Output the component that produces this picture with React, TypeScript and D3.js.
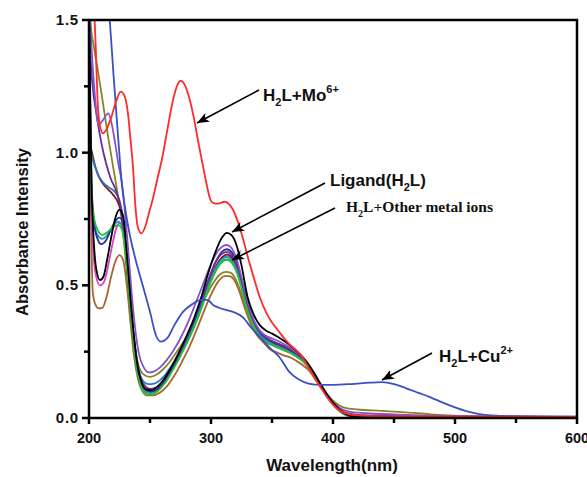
import React from "react";
import * as d3 from "d3";

type P = [number, number];

const xTicks = [200, 300, 400, 500, 600];
const xMinorTicks = [250, 350, 450, 550];
const yTicks = [0, 0.5, 1.0, 1.5];
const yMinorTicks = [0.25, 0.75, 1.25];

const moSeries: P[] = [[203.5,1.62],[205.5,1.4],[207,1.2],[209,1.1],[211.5,1.073],[214,1.085],[218,1.13],[222,1.19],[226,1.23],[229,1.215],[232,1.145],[234,1.05],[236,0.95],[238,0.8],[240,0.72],[243,0.696],[246,0.72],[249,0.77],[252,0.82],[256,0.9],[260,0.98],[264,1.08],[268,1.18],[272,1.25],[275,1.271],[278,1.26],[282,1.21],[286,1.13],[290,1.03],[293,0.96],[296,0.89],[299,0.83],[302,0.81],[306,0.808],[311,0.815],[315,0.805],[318,0.785],[322,0.74],[326,0.68],[330,0.61],[335,0.53],[340,0.455],[345,0.4],[350,0.36],[355,0.33],[360,0.3],[365,0.275],[370,0.255],[375,0.23],[380,0.19],[385,0.15],[390,0.115],[395,0.08],[400,0.05],[405,0.03],[410,0.018],[420,0.01],[450,0.006],[600,0.004]];

const cuSeries: P[] = [[214,1.65],[217,1.5],[220,1.3],[224,1.05],[227,0.88],[230,0.78],[233,0.7],[238,0.6],[244,0.5],[250,0.4],[255,0.31],[259,0.288],[264,0.3],[270,0.35],[277,0.4],[285,0.43],[292,0.445],[297,0.445],[302,0.425],[310,0.41],[318,0.4],[326,0.38],[333,0.34],[340,0.305],[348,0.265],[356,0.23],[364,0.175],[372,0.145],[380,0.13],[390,0.125],[400,0.125],[415,0.128],[430,0.133],[440,0.135],[450,0.128],[460,0.112],[470,0.095],[480,0.078],[490,0.058],[500,0.04],[510,0.025],[520,0.015],[530,0.01],[545,0.007],[600,0.005]];

const ligandSeries: P[] = [[200,1.6],[201,1.2],[202,0.9],[204,0.66],[206,0.56],[209,0.52],[212,0.535],[215,0.6],[219,0.7],[222,0.76],[225,0.785],[228,0.76],[231,0.62],[234,0.45],[237,0.3],[240,0.19],[243,0.135],[247,0.108],[251,0.105],[256,0.118],[262,0.15],[268,0.195],[274,0.25],[280,0.31],[286,0.375],[292,0.455],[298,0.55],[304,0.63],[309,0.68],[313,0.698],[317,0.688],[321,0.65],[325,0.575],[330,0.455],[335,0.39],[340,0.35],[345,0.33],[350,0.318],[355,0.305],[360,0.29],[365,0.273],[370,0.253],[375,0.23],[380,0.202],[385,0.166],[390,0.126],[395,0.089],[400,0.058],[405,0.033],[410,0.016],[415,0.007],[425,0.003],[600,0.003]];

const greenSeries: P[] = [[200,1.6],[201,1.15],[202,0.86],[204,0.76],[207,0.71],[211,0.69],[215,0.7],[220,0.72],[224,0.727],[227,0.71],[230,0.62],[233,0.47],[236,0.31],[239,0.19],[242,0.125],[246,0.092],[250,0.088],[256,0.1],[262,0.13],[268,0.175],[274,0.225],[280,0.28],[286,0.34],[292,0.41],[298,0.49],[304,0.555],[309,0.588],[313,0.596],[317,0.585],[321,0.55],[325,0.49],[330,0.405],[335,0.345],[340,0.305],[345,0.285],[350,0.275],[355,0.265],[360,0.255],[365,0.245],[370,0.232],[375,0.215],[380,0.19],[385,0.155],[390,0.12],[395,0.085],[400,0.055],[405,0.03],[410,0.014],[415,0.006],[425,0.003],[600,0.003]];

const tealSeries: P[] = [[200,1.6],[201,1.1],[202,0.84],[204,0.74],[207,0.69],[211,0.675],[215,0.69],[220,0.725],[224,0.74],[227,0.725],[230,0.63],[233,0.475],[236,0.315],[239,0.2],[242,0.135],[246,0.1],[250,0.095],[256,0.105],[262,0.135],[268,0.18],[274,0.23],[280,0.285],[286,0.345],[292,0.415],[298,0.495],[304,0.565],[309,0.598],[313,0.606],[317,0.595],[321,0.56],[325,0.5],[330,0.412],[335,0.35],[340,0.31],[345,0.29],[350,0.278],[355,0.268],[360,0.258],[365,0.247],[370,0.234],[375,0.217],[380,0.192],[385,0.157],[390,0.12],[395,0.085],[400,0.055],[405,0.03],[410,0.014],[415,0.006],[425,0.003],[600,0.003]];

const indigoSeries: P[] = [[200,1.6],[201,1.2],[202,0.9],[204,0.74],[207,0.675],[210,0.655],[214,0.67],[218,0.71],[222,0.745],[225,0.755],[228,0.73],[231,0.6],[234,0.44],[237,0.29],[240,0.19],[243,0.135],[247,0.105],[251,0.1],[256,0.108],[262,0.138],[268,0.185],[274,0.24],[280,0.3],[286,0.365],[292,0.44],[298,0.52],[304,0.59],[309,0.627],[313,0.636],[317,0.625],[321,0.585],[325,0.52],[330,0.43],[335,0.365],[340,0.325],[345,0.303],[350,0.29],[355,0.28],[360,0.27],[365,0.257],[370,0.242],[375,0.224],[380,0.197],[385,0.162],[390,0.123],[395,0.087],[400,0.056],[405,0.031],[410,0.015],[415,0.007],[425,0.003],[600,0.003]];

const pinkSeries: P[] = [[200,1.6],[201,1.1],[202,0.8],[204,0.6],[206,0.53],[209,0.5],[212,0.51],[215,0.56],[219,0.65],[222,0.71],[225,0.735],[228,0.715],[231,0.59],[234,0.43],[237,0.285],[240,0.185],[243,0.13],[247,0.1],[251,0.095],[256,0.105],[262,0.135],[268,0.18],[274,0.232],[280,0.288],[286,0.35],[292,0.422],[298,0.5],[304,0.57],[309,0.603],[313,0.61],[317,0.598],[321,0.562],[325,0.5],[330,0.414],[335,0.352],[340,0.313],[345,0.292],[350,0.28],[355,0.27],[360,0.26],[365,0.248],[370,0.235],[375,0.218],[380,0.193],[385,0.158],[390,0.121],[395,0.086],[400,0.056],[405,0.031],[410,0.015],[415,0.007],[425,0.004],[600,0.004]];

const brownSeries: P[] = [[200,1.55],[201,1.1],[202,0.7],[203,0.48],[205,0.43],[208,0.413],[211,0.415],[214,0.45],[218,0.53],[222,0.595],[225,0.614],[228,0.595],[231,0.5],[234,0.36],[237,0.23],[240,0.15],[244,0.1],[248,0.085],[252,0.085],[258,0.095],[264,0.12],[270,0.16],[276,0.21],[282,0.265],[288,0.33],[294,0.4],[300,0.465],[306,0.515],[311,0.535],[315,0.535],[319,0.52],[323,0.48],[328,0.41],[333,0.35],[338,0.31],[343,0.285],[348,0.26],[355,0.245],[360,0.235],[365,0.228],[370,0.215],[375,0.2],[380,0.18],[385,0.15],[390,0.115],[395,0.08],[400,0.05],[405,0.027],[410,0.012],[415,0.006],[425,0.003],[600,0.003]];

const oliveSeries: P[] = [[200,1.62],[201,1.5],[204,1.4],[207.6,1.3],[212,1.17],[216,1.05],[220,0.94],[224,0.83],[227,0.74],[230,0.6],[233,0.45],[236,0.32],[239,0.23],[242,0.18],[246,0.16],[250,0.155],[254,0.16],[260,0.18],[266,0.21],[272,0.25],[278,0.29],[284,0.34],[290,0.4],[296,0.46],[302,0.51],[307,0.54],[312,0.551],[316,0.548],[320,0.525],[324,0.48],[329,0.41],[334,0.35],[339,0.31],[344,0.29],[350,0.275],[355,0.265],[360,0.255],[365,0.245],[370,0.232],[375,0.215],[380,0.19],[385,0.16],[390,0.12],[395,0.09],[400,0.065],[405,0.048],[410,0.038],[420,0.032],[440,0.027],[460,0.021],[480,0.014],[500,0.009],[530,0.005],[600,0.004]];

const maroonSeries: P[] = [[200,1.05],[202,1.01],[205,0.95],[208,0.91],[212,0.88],[216,0.86],[220,0.84],[224,0.81],[227,0.76],[230,0.63],[233,0.47],[236,0.31],[239,0.2],[242,0.135],[246,0.1],[250,0.095],[256,0.105],[262,0.135],[268,0.18],[274,0.23],[280,0.285],[286,0.35],[292,0.42],[298,0.5],[304,0.57],[309,0.605],[313,0.617],[317,0.605],[321,0.57],[325,0.51],[330,0.42],[335,0.36],[340,0.32],[345,0.297],[350,0.285],[355,0.275],[360,0.265],[365,0.252],[370,0.238],[375,0.22],[380,0.195],[385,0.16],[390,0.122],[395,0.087],[400,0.056],[405,0.032],[410,0.015],[415,0.007],[425,0.003],[600,0.003]];

const steelSeries: P[] = [[200,1.1],[201,1.02],[204,0.96],[207.6,0.916],[212,0.885],[216,0.87],[221,0.853],[225,0.82],[228,0.75],[231,0.6],[234,0.44],[237,0.3],[240,0.2],[243,0.15],[247,0.13],[251,0.128],[256,0.135],[262,0.16],[268,0.2],[274,0.245],[280,0.295],[286,0.355],[292,0.425],[298,0.5],[304,0.56],[309,0.59],[313,0.598],[317,0.588],[321,0.555],[325,0.5],[330,0.415],[335,0.355],[340,0.315],[345,0.293],[350,0.28],[355,0.27],[360,0.26],[365,0.248],[370,0.235],[375,0.218],[380,0.193],[385,0.158],[390,0.12],[395,0.085],[400,0.055],[405,0.03],[410,0.014],[415,0.006],[425,0.003],[600,0.003]];

const violetSeries: P[] = [[200,1.6],[202,1.4],[205,1.205],[207.6,1.104],[211,1.12],[215.8,1.148],[219,1.1],[221.3,1.04],[224,0.96],[226.8,0.89],[229,0.8],[232,0.64],[235,0.47],[238,0.33],[241,0.24],[245,0.19],[249,0.172],[253,0.175],[258,0.19],[264,0.22],[270,0.26],[276,0.31],[282,0.37],[288,0.44],[294,0.51],[300,0.58],[305,0.625],[310,0.648],[313,0.652],[317,0.64],[321,0.6],[325,0.53],[330,0.44],[335,0.37],[340,0.33],[345,0.31],[350,0.3],[355,0.29],[360,0.278],[365,0.265],[370,0.248],[375,0.228],[380,0.2],[385,0.165],[390,0.125],[395,0.09],[400,0.06],[405,0.04],[410,0.028],[420,0.02],[440,0.015],[470,0.01],[520,0.006],[600,0.005]];

const purpleSeries: P[] = [[200,1.6],[201,1.4],[203,1.25],[206,1.15],[210,1.04],[214,0.96],[218,0.9],[221.3,0.867],[224,0.83],[227,0.77],[230,0.64],[233,0.48],[236,0.33],[239,0.22],[242,0.155],[246,0.12],[250,0.11],[255,0.115],[261,0.14],[267,0.185],[273,0.235],[279,0.29],[285,0.355],[291,0.43],[297,0.51],[303,0.58],[308,0.615],[313,0.626],[317,0.615],[321,0.58],[325,0.52],[330,0.43],[335,0.365],[340,0.325],[345,0.303],[350,0.29],[355,0.28],[360,0.27],[365,0.258],[370,0.243],[375,0.225],[380,0.198],[385,0.163],[390,0.125],[395,0.09],[400,0.06],[405,0.036],[410,0.02],[420,0.012],[440,0.009],[480,0.006],[600,0.004]];

const seriesList: { data: P[]; color: string }[] = [
  { data: brownSeries, color: "#a8662c" },
  { data: oliveSeries, color: "#85862a" },
  { data: pinkSeries, color: "#d844c4" },
  { data: maroonSeries, color: "#7a1a1a" },
  { data: steelSeries, color: "#2f78c0" },
  { data: tealSeries, color: "#1ba5a8" },
  { data: indigoSeries, color: "#2e2e9a" },
  { data: purpleSeries, color: "#6a2c9c" },
  { data: violetSeries, color: "#8552c8" },
  { data: greenSeries, color: "#26be3c" },
  { data: ligandSeries, color: "#000000" },
  { data: cuSeries, color: "#3a50c4" },
  { data: moSeries, color: "#ff2a2a" },
];

const W = 587;
const H = 477;
const L = 89, R = 577, T = 20, B = 418;

export default function App() {
  const x = d3.scaleLinear().domain([200, 600]).range([L, R]);
  const y = d3.scaleLinear().domain([0, 1.5]).range([B, T]);
  const line = d3
    .line<P>()
    .x((d) => x(d[0]))
    .y((d) => y(d[1]))
    .curve(d3.curveMonotoneX);
  const sans = "Arial, 'Liberation Sans', Helvetica, sans-serif";
  const serif = "'Times New Roman', 'Liberation Serif', serif";

  return (
    <svg
      width={W}
      height={H}
      style={{ position: "absolute", left: 0, top: 0, background: "#fff" }}
    >
      <defs>
        <clipPath id="plotClip">
          <rect x={L} y={T} width={R - L} height={B - T} />
        </clipPath>
        <marker
          id="arrow"
          viewBox="0 0 12 10"
          refX="12"
          refY="5"
          markerWidth="12"
          markerHeight="10"
          markerUnits="userSpaceOnUse"
          orient="auto"
        >
          <path d="M0,0 L12,5 L0,10 L3,5 Z" fill="#000" />
        </marker>
      </defs>
      <rect x={0} y={0} width={W} height={H} fill="#fff" />
      <g clipPath="url(#plotClip)">
        {seriesList.map((s, i) => (
          <path
            key={i}
            d={line(s.data) || ""}
            fill="none"
            stroke={s.color}
            strokeWidth={1.8}
            strokeLinejoin="round"
          />
        ))}
      </g>
      {/* frame */}
      <rect x={L} y={T} width={R - L} height={B - T} fill="none" stroke="#000" strokeWidth={2.5} />
      {/* x ticks */}
      {xTicks.map((t) => (
        <g key={"xt" + t}>
          <line x1={x(t)} x2={x(t)} y1={B} y2={B + 6} stroke="#000" strokeWidth={2.5} />
          <text
            x={x(t)}
            y={443}
            textAnchor="middle"
            fontFamily={sans}
            fontWeight="bold"
            fontSize={14.5}
            fill="#111"
          >
            {t}
          </text>
        </g>
      ))}
      {xMinorTicks.map((t) => (
        <line key={"xm" + t} x1={x(t)} x2={x(t)} y1={B} y2={B + 5} stroke="#000" strokeWidth={2.5} />
      ))}
      {yTicks.map((t) => (
        <g key={"yt" + t}>
          <line x1={L - 7} x2={L} y1={y(t)} y2={y(t)} stroke="#000" strokeWidth={2.5} />
          <text
            x={79}
            y={y(t) + 5}
            textAnchor="end"
            fontFamily={sans}
            fontWeight="bold"
            fontSize={15}
            letterSpacing={0.8}
            fill="#111"
          >
            {t.toFixed(1)}
          </text>
        </g>
      ))}
      {yMinorTicks.map((t) => (
        <line key={"ym" + t} x1={L - 5} x2={L} y1={y(t)} y2={y(t)} stroke="#000" strokeWidth={2.5} />
      ))}
      {/* axis titles */}
      <text
        x={332}
        y={471}
        textAnchor="middle"
        fontFamily={sans}
        fontWeight="bold"
        fontSize={17}
        fill="#111"
      >
        Wavelength(nm)
      </text>
      <text
        transform="translate(28,232) rotate(-90)"
        textAnchor="middle"
        fontFamily={sans}
        fontWeight="bold"
        fontSize={16.5}
        fill="#111"
      >
        Absorbance Intensity
      </text>
      {/* annotations */}
      <line x1={259} y1={90} x2={197} y2={123} stroke="#000" strokeWidth={1.6} markerEnd="url(#arrow)" />
      <text x={263} y={101} fontFamily={sans} fontWeight="bold" fontSize={17} fill="#111">
        H<tspan fontSize={11} dy={5}>2</tspan>
        <tspan dy={-5}>L+Mo</tspan>
        <tspan fontSize={11} dy={-8}>6+</tspan>
      </text>

      <line x1={325} y1={183} x2={232} y2={232} stroke="#000" strokeWidth={1.6} markerEnd="url(#arrow)" />
      <text x={330} y={186} fontFamily={sans} fontWeight="bold" fontSize={17} fill="#111">
        Ligand(H<tspan fontSize={11} dy={5}>2</tspan>
        <tspan dy={-5}>L)</tspan>
      </text>

      <line x1={335} y1={208} x2={232} y2={260} stroke="#000" strokeWidth={1.6} markerEnd="url(#arrow)" />
      <text x={346} y={212} fontFamily={serif} fontWeight="bold" fontSize={15.5} fill="#111">
        H<tspan fontSize={10} dy={5}>2</tspan>
        <tspan dy={-5}>L+Other metal ions</tspan>
      </text>

      <line x1={432} y1={353} x2={382} y2={380} stroke="#000" strokeWidth={1.6} markerEnd="url(#arrow)" />
      <text x={439} y={362} fontFamily={sans} fontWeight="bold" fontSize={17} fill="#111">
        H<tspan fontSize={11} dy={5}>2</tspan>
        <tspan dy={-5}>L+Cu</tspan>
        <tspan fontSize={11} dy={-8}>2+</tspan>
      </text>
    </svg>
  );
}
